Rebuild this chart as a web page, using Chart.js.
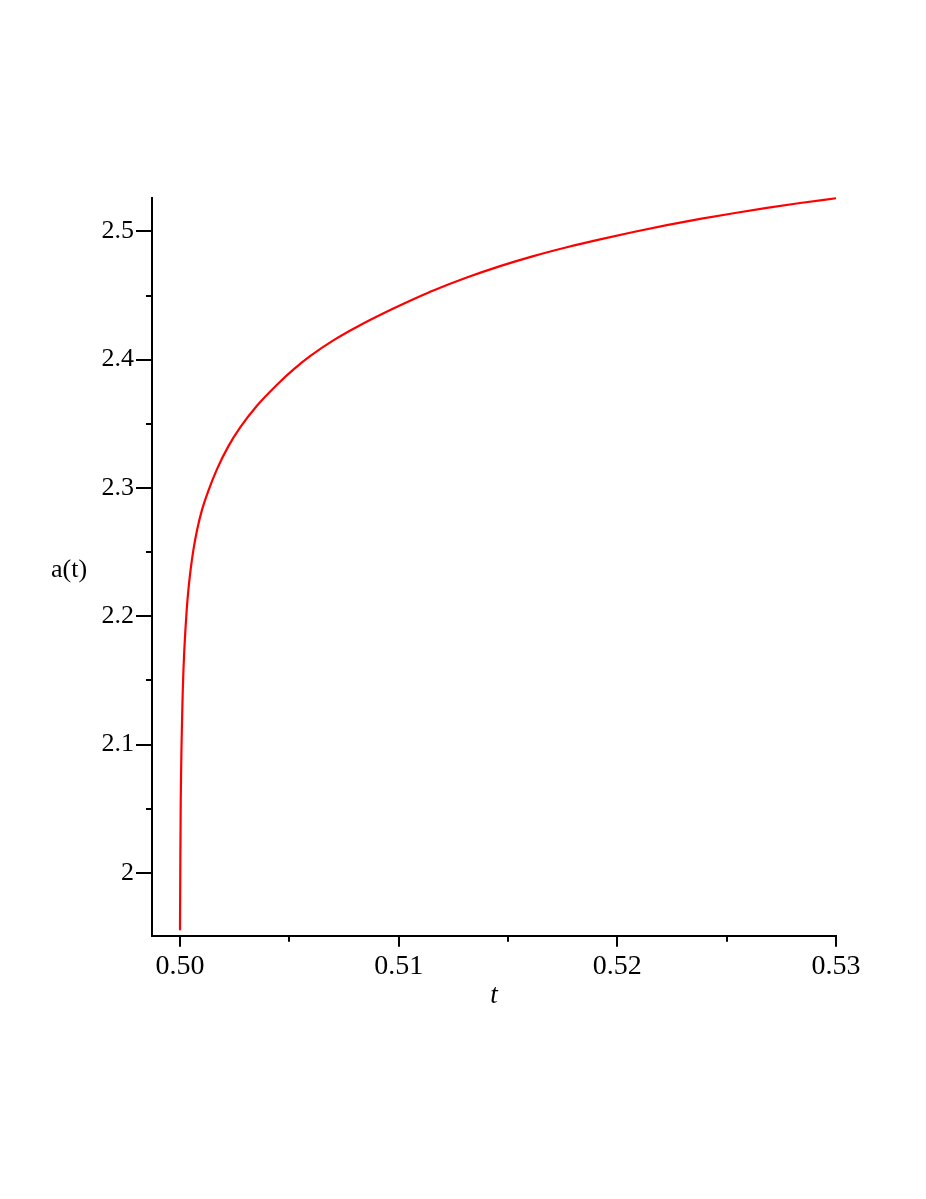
<!DOCTYPE html>
<html>
<head>
<meta charset="utf-8">
<script src="https://cdn.jsdelivr.net/npm/chart.js@4/dist/chart.umd.min.js"></script>
<style>
  html, body { margin: 0; padding: 0; background: #fff; }
  #wrap { width: 926px; height: 1199px; position: relative; }
</style>
</head>
<body>
<div id="wrap"><canvas id="myChart"></canvas></div>
<script>
// curve a(t)
const tVals = [0.5, 0.500016, 0.500034, 0.500053, 0.500066, 0.500085, 0.500105, 0.500128,
  0.500158, 0.500197, 0.500247, 0.500307, 0.500384, 0.500485, 0.500613, 0.500782,
  0.501006, 0.501313, 0.501693, 0.50221, 0.502745, 0.503509, 0.504424, 0.505183,
  0.505947, 0.507013, 0.508234, 0.509758, 0.510979, 0.511587, 0.513115, 0.514639,
  0.516162, 0.51769, 0.519213, 0.520737, 0.522264, 0.523788, 0.525311, 0.526839,
  0.528362, 0.53];
const aVals = [1.9553, 2.0099, 2.0567, 2.0801, 2.0957, 2.1113, 2.1269, 2.1425,
  2.1581, 2.1737, 2.1893, 2.2049, 2.2205, 2.2361, 2.2517, 2.2673,
  2.2829, 2.2985, 2.3147, 2.3324, 2.347, 2.3639, 2.3803, 2.3922,
  2.4027, 2.415, 2.4268, 2.4398, 2.4494, 2.4539, 2.464, 2.4729,
  2.4807, 2.4876, 2.4938, 2.4995, 2.5048, 2.5097, 2.5141, 2.5183,
  2.5221, 2.5258];

const xMajor = [0.50, 0.51, 0.52, 0.53];
const xTickLabels = ['0.50', '0.51', '0.52', '0.53'];
const xMinor = [0.505, 0.515, 0.525];
const yMajor = [2, 2.1, 2.2, 2.3, 2.4, 2.5];
const yTickLabels = ['2', '2.1', '2.2', '2.3', '2.4', '2.5'];
const yMinor = [2.05, 2.15, 2.25, 2.35, 2.45];

const serif = '"Liberation Serif", "Times New Roman", serif';

// short minor ticks + horizontal y title
const extras = {
    id: 'extras',
    afterDraw(chart) {
        const ctx = chart.ctx;
        const xs = chart.scales.x;
        const ys = chart.scales.y;
        const area = chart.chartArea;
        ctx.save();
        ctx.strokeStyle = '#000';
        ctx.lineWidth = 2;
        xMinor.forEach(v => {
            const px = Math.round(xs.getPixelForValue(v));
            ctx.beginPath();
            ctx.moveTo(px, area.bottom);
            ctx.lineTo(px, area.bottom + 6);
            ctx.stroke();
        });
        yMinor.forEach(v => {
            const py = Math.round(ys.getPixelForValue(v));
            ctx.beginPath();
            ctx.moveTo(area.left - 6, py);
            ctx.lineTo(area.left, py);
            ctx.stroke();
        });
        ctx.fillStyle = '#000';
        ctx.font = '26px ' + serif;
        ctx.textAlign = 'center';
        ctx.textBaseline = 'middle';
        ctx.fillText('a(t)', 69, 570);
        ctx.restore();
    }
};

const data = {
    datasets: [{
        label: 'a(t)',
        data: tVals.map((t, i) => ({ x: t, y: aVals[i] })),
        borderColor: '#ff0000',
        borderWidth: 2.2,
        pointRadius: 0,
        cubicInterpolationMode: 'monotone',
        fill: false,
        clip: false,
    }]
};

const config = {
    type: 'line',
    data: data,
    options: {
        responsive: true,
        maintainAspectRatio: false,
        animation: false,
        layout: { padding: { top: 198, right: 90, bottom: 0, left: 0 } },
        plugins: {
            legend: { display: false },
            tooltip: { enabled: false },
        },
        scales: {
            x: {
                type: 'linear',
                min: 0.49872,
                max: 0.53,
                afterBuildTicks: s => { s.ticks = xMajor.map(v => ({ value: v })); },
                afterFit: s => { s.height = 1199 - 935.7; },
                ticks: {
                    autoSkip: false,
                    maxRotation: 0,
                    padding: 3,
                    color: '#000',
                    font: { family: serif, size: 28 },
                    callback: (v, i) => xTickLabels[i],
                },
                grid: { drawOnChartArea: false, drawTicks: true, tickLength: 11, color: '#000', lineWidth: 2 },
                border: { display: true, color: '#000', width: 2 },
                title: {
                    display: true,
                    text: 't',
                    color: '#000',
                    font: { family: serif, size: 27, style: 'italic' },
                    padding: { top: 0, bottom: 187 },
                },
            },
            y: {
                type: 'linear',
                min: 1.951,
                max: 2.526,
                afterBuildTicks: s => { s.ticks = yMajor.map(v => ({ value: v })); },
                afterFit: s => { s.width = 152; },
                ticks: {
                    autoSkip: false,
                    padding: 2,
                    color: '#000',
                    font: { family: serif, size: 26 },
                    callback: (v, i) => yTickLabels[i],
                },
                grid: { drawOnChartArea: false, drawTicks: true, tickLength: 16, color: '#000', lineWidth: 2 },
                border: { display: true, color: '#000', width: 2 },
            },
        },
    },
    plugins: [extras],
};

const myChart = new Chart(document.getElementById('myChart'), config);
</script>
</body>
</html>
